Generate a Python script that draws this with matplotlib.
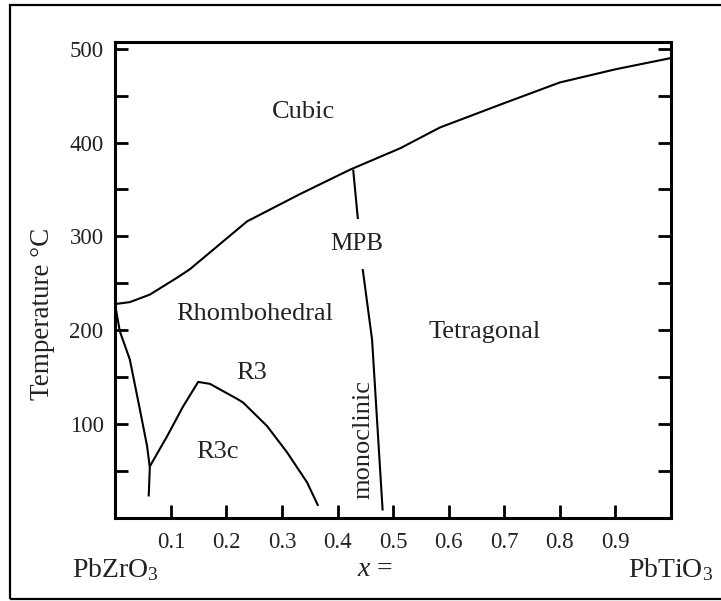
import matplotlib
matplotlib.use("Agg")
import matplotlib.pyplot as plt
from matplotlib.patches import Rectangle
from matplotlib.transforms import blended_transform_factory

plt.rcParams['font.family'] = ['Liberation Serif', 'DejaVu Serif']
plt.rcParams['mathtext.fontset'] = 'custom'
plt.rcParams['mathtext.rm'] = 'Liberation Serif'
plt.rcParams['mathtext.it'] = 'Liberation Serif:italic'

# Phase boundaries (x = PbTiO3 fraction, T in degC)
curie_x = [0.0, 0.026, 0.062, 0.111, 0.134, 0.237, 0.332, 0.422, 0.513, 0.584, 0.70, 0.80, 0.90, 1.0]
curie_t = [228, 230, 238, 256, 265, 316, 345, 371, 394, 416, 442, 464, 478, 490]

afe_x = [0.0, 0.008, 0.026, 0.044, 0.057, 0.062, 0.060]
afe_t = [226, 199, 169, 116, 77, 54, 23]

r3_x = [0.062, 0.093, 0.122, 0.149, 0.170, 0.219, 0.230, 0.273, 0.309, 0.345, 0.365]
r3_t = [55, 87, 119, 145, 143, 127, 123, 98, 70, 38, 13]

mpb_x = [0.428, 0.437, 0.444, 0.462, 0.481]
mpb_t = [371, 315, 270, 190, 8]

xticks = [0.1, 0.2, 0.3, 0.4, 0.5, 0.6, 0.7, 0.8, 0.9]
yticks = [100, 200, 300, 400, 500]
yminor = [50, 150, 250, 350, 450]

phase_labels = ['Cubic', 'Rhombohedral', 'R3', 'R3c', 'Tetragonal']
phase_x = [0.338, 0.25, 0.246, 0.183, 0.665]
phase_t = [432, 217, 155, 70, 198]

fig = plt.figure(figsize=(7.21, 6.01), dpi=100)
ax = fig.add_axes([0.160, 0.138, 0.7707, 0.792])

# outer frame (open on the right, as cropped in the original)
fig.patches.append(Rectangle((10 / 721, 2 / 601), 1.2, 594 / 601, transform=fig.transFigure,
                             fill=False, lw=1.6, ec='black'))

for xs, ts in [(curie_x, curie_t), (afe_x, afe_t), (r3_x, r3_t), (mpb_x, mpb_t)]:
    ax.plot(xs, ts, color='black', lw=1.5, solid_capstyle='butt')

ax.set_xlim(0, 1)
ax.set_ylim(0, 507)

for s in ax.spines.values():
    s.set_linewidth(2.2)

ax.set_xticks(xticks)
ax.set_xticklabels([f'{v:.1f}' for v in xticks])
ax.set_yticks(yticks)
ax.set_yticks(yminor, minor=True)
ax.tick_params(axis='both', which='both', direction='in', length=9.5, width=2,
               labelsize=16.5, labelcolor='#222222')
ax.tick_params(axis='y', which='both', right=True, pad=8.5)
ax.tick_params(axis='x', pad=10)

ax.set_ylabel('Temperature °C', fontsize=19.5, color='#222222')
ax.yaxis.set_label_coords(-0.132, 0.43)
ax.yaxis.label.set_verticalalignment('center')

for lab, px, pt in zip(phase_labels, phase_x, phase_t):
    ax.text(px, pt, lab, fontsize=19, ha='center', va='center', color='#222222')

ax.text(0.435, 292, 'MPB', fontsize=18, ha='center', va='center', color='#222222',
        bbox=dict(boxstyle='square,pad=0.55', fc='white', ec='none'))
ax.text(0.446, 84, 'monoclinic', fontsize=19, rotation=90, ha='center', va='center',
        color='#222222')

trans = blended_transform_factory(ax.transData, ax.transAxes)
ax.text(0.0, -0.109, 'PbZrO$_3$', fontsize=20, ha='center', va='center', transform=trans,
        color='#222222', clip_on=False)
ax.text(1.0, -0.109, 'PbTiO$_3$', fontsize=20, ha='center', va='center', transform=trans,
        color='#222222', clip_on=False)
ax.text(0.467, -0.109, '$x$ =', fontsize=20, ha='center', va='center', transform=trans,
        color='#222222', clip_on=False)

fig.savefig('out.png', dpi=100)
plt.close()
